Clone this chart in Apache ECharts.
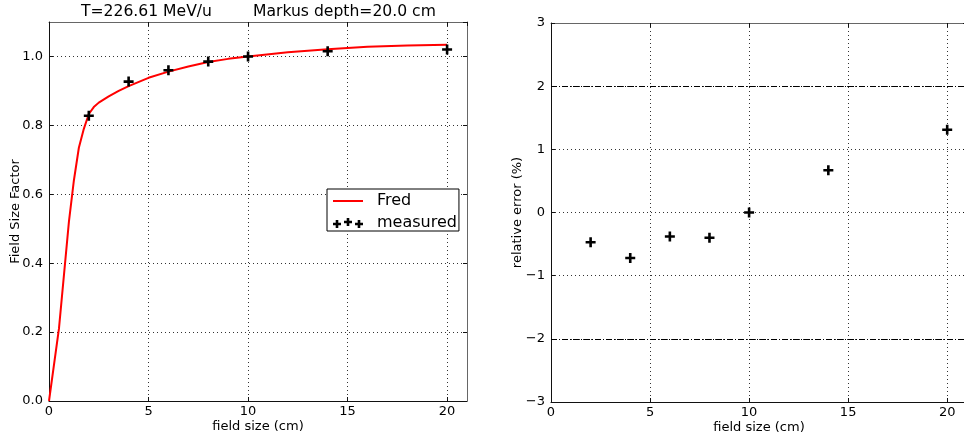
<!DOCTYPE html>
<html>
<head>
<meta charset="utf-8">
<script src="https://cdn.jsdelivr.net/npm/echarts@6/dist/echarts.min.js"></script>
<style>
  html, body { margin: 0; padding: 0; background: #fff; }
  #chart { width: 964px; height: 438px; }
</style>
</head>
<body>
<div id="chart"></div>
<script>
// Field size factor: simulated curve (Fred) and measured points
const fredSize   = [0, 0.5, 1.0, 1.25, 1.5, 1.75, 2.0, 2.25, 2.5, 3, 3.5, 4, 5, 6, 7, 8, 9, 10, 12, 14, 16, 18, 20];
const fredFactor = [0.0, 0.21, 0.52, 0.64, 0.735, 0.79, 0.833, 0.853, 0.866, 0.884, 0.9, 0.914, 0.938, 0.956, 0.971, 0.984, 0.993, 1.0, 1.012, 1.021, 1.028, 1.032, 1.034];

const measSize   = [2, 4, 6, 8, 10, 14, 20];
const measFactor = [0.828, 0.927, 0.960, 0.985, 1.0, 1.015, 1.02];

// Relative error between simulation and measurement (%)
const relError   = [-0.47, -0.72, -0.38, -0.40, 0.0, 0.67, 1.31];
const errorBand  = [2, -2];

const fontFamily = 'DejaVu Sans';
const plusPath = 'path://M3.7,0H6.3V3.7H10V6.3H6.3V10H3.7V6.3H0V3.7H3.7Z';
const cross = (cx, cy) => `M${cx-1.3},${cy-4}H${cx+1.3}V${cy-1.3}H${cx+4}V${cy+1.3}H${cx+1.3}V${cy+4}H${cx-1.3}V${cy+1.3}H${cx-4}V${cy-1.3}H${cx-1.3}Z`;
const triplePlus = 'path://' + cross(4, 6) + cross(15, 4) + cross(26, 6);

const dotted = { show: true, lineStyle: { color: '#333', width: 1, type: [1, 3] } };
const label = { fontFamily, fontSize: 13, color: '#000' };

function mainX(gridIndex) {
  return {
    gridIndex, type: 'value', min: 0, max: 21, interval: 5,
    name: 'field size (cm)', nameLocation: 'middle', nameGap: 19, nameMoveOverlap: false,
    nameTextStyle: { fontFamily, fontSize: 13, color: '#000' },
    axisLine: { show: true, onZero: false, lineStyle: { color: '#111', width: 1 } },
    axisTick: { show: true, inside: true, length: 4, lineStyle: { color: '#111' } },
    axisLabel: Object.assign({ margin: 4, showMaxLabel: false }, label),
    splitLine: dotted
  };
}
function frameX(gridIndex) {
  return {
    gridIndex, type: 'value', min: 0, max: 21, interval: 5, position: 'top',
    axisLine: { show: true, onZero: false, lineStyle: { color: '#666', width: 1 } },
    axisTick: { show: true, inside: true, length: 4, lineStyle: { color: '#111' } },
    axisLabel: { show: false }, splitLine: { show: false }
  };
}
function frameY(gridIndex, min, max, interval) {
  return {
    gridIndex, type: 'value', min, max, interval, position: 'right',
    axisLine: { show: true, onZero: false, lineStyle: { color: '#666', width: 1 } },
    axisTick: { show: true, inside: true, length: 4, lineStyle: { color: '#111' } },
    axisLabel: { show: false }, splitLine: { show: false }
  };
}

const titleStyle = { fontFamily, fontSize: 15.6, fontWeight: 'normal', color: '#000' };

const option = {
  animation: false,
  backgroundColor: '#fff',
  title: [
    { text: 'T=226.61 MeV/u', left: 81, top: 4, padding: 0, textStyle: titleStyle },
    { text: 'Markus depth=20.0 cm', left: 253, top: 4, padding: 0, textStyle: titleStyle }
  ],
  legend: {
    orient: 'vertical', left: 327, top: 189,
    padding: [4, 2, 0, 6], itemGap: 6, itemWidth: 30, itemHeight: 10,
    backgroundColor: '#fff', borderColor: '#000', borderWidth: 1, borderRadius: 0,
    textStyle: { fontFamily, fontSize: 16, lineHeight: 14, color: '#000', padding: [0, 0, 0, 9] },
    data: [
      { name: 'Fred', icon: 'path://M0,4H30V6H0Z', itemStyle: { color: '#ff0000' } },
      { name: 'measured', icon: triplePlus, itemStyle: { color: '#000' } }
    ]
  },
  grid: [
    { left: 49, top: 22, width: 418, height: 379, outerBoundsMode: 'none' },
    { left: 551, top: 23, width: 416, height: 379, outerBoundsMode: 'none' }
  ],
  xAxis: [mainX(0), frameX(0), mainX(1), frameX(1)],
  yAxis: [
    {
      gridIndex: 0, type: 'value', min: 0, max: 1.1, interval: 0.2,
      name: 'Field Size Factor', nameLocation: 'middle', nameGap: 27, nameMoveOverlap: false,
      nameTextStyle: { fontFamily, fontSize: 13, color: '#000' },
      axisLine: { show: true, onZero: false, lineStyle: { color: '#111', width: 1 } },
      axisTick: { show: true, inside: true, length: 4, lineStyle: { color: '#111' } },
      axisLabel: Object.assign({ margin: 6, showMaxLabel: false, formatter: v => v.toFixed(1) }, label),
      splitLine: dotted
    },
    frameY(0, 0, 1.1, 0.2),
    {
      gridIndex: 1, type: 'value', min: -3, max: 3, interval: 1,
      name: 'relative error (%)', nameLocation: 'middle', nameGap: 27, nameMoveOverlap: false,
      nameTextStyle: { fontFamily, fontSize: 13, color: '#000' },
      axisLine: { show: true, onZero: false, lineStyle: { color: '#111', width: 1 } },
      axisTick: { show: true, inside: true, length: 4, lineStyle: { color: '#111' } },
      axisLabel: Object.assign({ margin: 6, formatter: v => String(v).replace('-', '\u2212') }, label),
      splitLine: dotted
    },
    frameY(1, -3, 3, 1)
  ],
  series: [
    {
      name: 'Fred', type: 'line', xAxisIndex: 0, yAxisIndex: 0,
      data: fredSize.map((x, i) => [x, fredFactor[i]]),
      showSymbol: false, symbol: 'none',
      lineStyle: { color: '#ff0000', width: 2 }, itemStyle: { color: '#ff0000' }, z: 3
    },
    {
      name: 'measured', type: 'scatter', xAxisIndex: 0, yAxisIndex: 0,
      data: measSize.map((x, i) => [x, measFactor[i]]),
      symbol: plusPath, symbolSize: 10, itemStyle: { color: '#000', opacity: 1 }, z: 4
    },
    {
      name: 'error', type: 'scatter', xAxisIndex: 2, yAxisIndex: 2,
      data: measSize.map((x, i) => [x, relError[i]]),
      symbol: plusPath, symbolSize: 10, itemStyle: { color: '#000', opacity: 1 }, z: 4,
      markLine: {
        silent: true, symbol: 'none', label: { show: false },
        lineStyle: { color: '#000', width: 1, type: [6, 2, 1, 2] },
        data: errorBand.map(v => ({ yAxis: v }))
      }
    }
  ]
};

const chart = echarts.init(document.getElementById('chart'), null, { renderer: 'canvas' });
chart.setOption(option);
</script>
</body>
</html>
